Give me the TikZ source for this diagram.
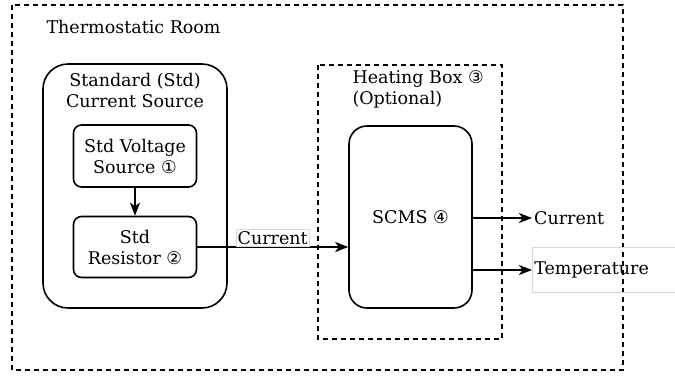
\documentclass[tikz,border=0pt]{standalone}
\usepackage{fontspec}
\setmainfont{DejaVu Serif}
\newfontfamily\circfont{DejaVu Sans}
\usepackage{tikz}
\usetikzlibrary{arrows.meta}

\newcommand{\cnum}[1]{{\circfont #1}}

\tikzset{
  box/.style={draw, line width=1.6pt, align=center, inner sep=2pt},
  dashbox/.style={draw, line width=1.6pt, dash pattern=on 5pt off 4pt},
  flow/.style={line width=2pt, -{Stealth[length=13pt,width=10pt,inset=3.5pt]}},
  tag/.style={draw=gray!30, line width=0.5pt, inner sep=1.5pt},
}

\begin{document}
\begin{tikzpicture}[x=1pt,y=1pt,yscale=-1,font=\fontsize{17.5}{21}\selectfont]
\useasboundingbox (0,0) rectangle (675,376);

%Shape: Rectangle [thermostatic room]
\draw [dashbox] (12,5) rectangle (623,370);
% Text Node
\node (roomlbl) [anchor=west] at (43,27) {Thermostatic Room};

%Shape: Rounded Rect [std current source]
\node (stdcs) [box, rounded corners=25pt, minimum width=184pt, minimum height=244pt] at (135,186) {};
% Text Node
\node (stdcslbl) [align=center] at (135,90) {Standard (Std)\\Current Source};

%Shape: Rounded Rect [voltage source]
\node (vsrc) [box, rounded corners=8pt, minimum width=123pt, minimum height=62pt] at (135,156) {Std Voltage\\Source \cnum{①}};
%Shape: Rounded Rect [resistor]
\node (res) [box, rounded corners=8pt, minimum width=123pt, minimum height=61pt] at (135,247) {Std\\Resistor \cnum{②}};

%Shape: Rectangle [heating box]
\draw [dashbox] (318,65) rectangle (502,339);
% Text Node
\node (heatlbl) [align=left, anchor=north west] at (349,67) {Heating Box \cnum{③}\\(Optional)};

%Shape: Rounded Rect [scms]
\node (scms) [box, rounded corners=18pt, minimum width=123pt, minimum height=182pt] at (410.5,217) {SCMS \cnum{④}};

\coordinate (curout) at (532,218);
\coordinate (tempout) at (532,270);

%Straight Lines
\draw [flow] (vsrc) -- (res);
\draw [flow] (res.east) -- (res.east -| scms.west)
  node [tag, pos=0.5, above=1pt] (curlbl) {Current};
\draw [flow] (scms.east |- curout) -- (curout);
\draw [flow] (scms.east |- tempout) -- (tempout);

% Text Node
\node (curtxt) [anchor=west, inner sep=2pt] at (curout) {Current};
\node (temptxt) [tag, anchor=west, inner sep=2pt, minimum height=45pt, text width=160pt, align=left] at (tempout) {Temperature};

\end{tikzpicture}
\end{document}
